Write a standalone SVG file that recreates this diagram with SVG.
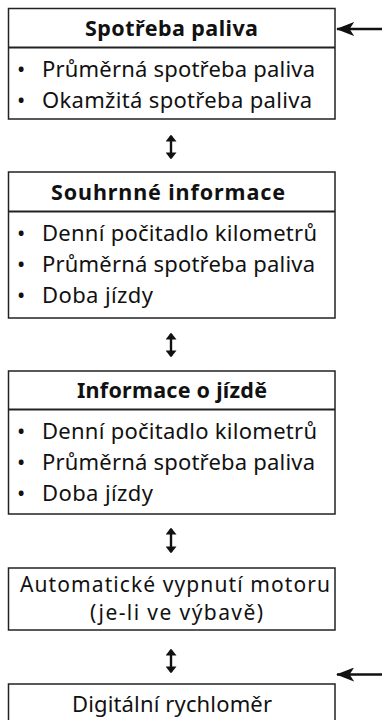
<svg xmlns="http://www.w3.org/2000/svg" width="382" height="720" viewBox="0 0 382 720">
<defs>
<style>
.box{fill:#fff;stroke:#222;stroke-width:1.5}
.div{stroke:#222;stroke-width:2.2}
.t{font-family:"Noto Sans","Open Sans","Liberation Sans",sans-serif;font-size:22px;fill:#111}
.b{font-weight:bold;font-size:21.5px}
.s{font-size:21px}
.ln{stroke:#111;stroke-width:2.4;fill:none}
</style>
<marker id="ah" viewBox="0 0 10 10" refX="8" refY="5" markerWidth="7" markerHeight="11" markerUnits="userSpaceOnUse" orient="auto-start-reverse" preserveAspectRatio="none"><path d="M0,0L10,5L0,10z" fill="#111"/></marker>
<marker id="ah2" viewBox="0 0 10 10" refX="9.5" refY="5" markerWidth="18" markerHeight="14" markerUnits="userSpaceOnUse" orient="auto" preserveAspectRatio="none"><path d="M0,0L10,5L0,10L2.5,5z" fill="#111"/></marker>
</defs>
<g id="n1">
<rect class="box" x="8.5" y="8.5" width="326.5" height="110.5"/>
<line class="div" x1="8.5" y1="47.5" x2="335" y2="47.5"/>
<text class="t b" x="85" y="36" textLength="173">Spotřeba paliva</text>
<text class="t" x="17" y="77">•</text><text class="t" x="42" y="77" textLength="273">Průměrná spotřeba paliva</text>
<text class="t" x="17" y="108">•</text><text class="t" x="42" y="108" textLength="270">Okamžitá spotřeba paliva</text>
</g>
<g id="n2">
<rect class="box" x="8.5" y="172" width="326.5" height="146"/>
<line class="div" x1="8.5" y1="211.5" x2="335" y2="211.5"/>
<text class="t b" x="51" y="200" textLength="234">Souhrnné informace</text>
<text class="t" x="17" y="241">•</text><text class="t" x="42" y="241" textLength="275">Denní počitadlo kilometrů</text>
<text class="t" x="17" y="272">•</text><text class="t" x="42" y="272" textLength="273">Průměrná spotřeba paliva</text>
<text class="t" x="17" y="303">•</text><text class="t" x="42" y="303" textLength="111">Doba jízdy</text>
</g>
<g id="n3">
<rect class="box" x="8.5" y="371" width="326.5" height="143"/>
<line class="div" x1="8.5" y1="409.5" x2="335" y2="409.5"/>
<text class="t b" x="77" y="398" textLength="190">Informace o jízdě</text>
<text class="t" x="17" y="439">•</text><text class="t" x="42" y="439" textLength="275">Denní počitadlo kilometrů</text>
<text class="t" x="17" y="470">•</text><text class="t" x="42" y="470" textLength="273">Průměrná spotřeba paliva</text>
<text class="t" x="17" y="501">•</text><text class="t" x="42" y="501" textLength="111">Doba jízdy</text>
</g>
<g id="n4">
<rect class="box" x="8.5" y="568" width="326.5" height="62"/>
<text class="t s" x="20" y="592" textLength="310">Automatické vypnutí motoru</text>
<text class="t s" x="90" y="620" textLength="173">(je-li ve výbavě)</text>
</g>
<g id="n5">
<rect class="box" x="8.5" y="684" width="326.5" height="50"/>
<text class="t" x="72" y="712" textLength="200">Digitální rychloměr</text>
</g>
<g id="connectors">
<line class="ln" x1="171" y1="136" x2="171" y2="158" marker-start="url(#ah)" marker-end="url(#ah)"/>
<line class="ln" x1="171" y1="334" x2="171" y2="356" marker-start="url(#ah)" marker-end="url(#ah)"/>
<line class="ln" x1="171" y1="529" x2="171" y2="552" marker-start="url(#ah)" marker-end="url(#ah)"/>
<line class="ln" x1="171" y1="650" x2="171" y2="672" marker-start="url(#ah)" marker-end="url(#ah)"/>
<line class="ln" x1="382" y1="29" x2="337" y2="29" marker-end="url(#ah2)"/>
<line class="ln" x1="382" y1="674.5" x2="337" y2="674.5" marker-end="url(#ah2)"/>
</g>
</svg>
